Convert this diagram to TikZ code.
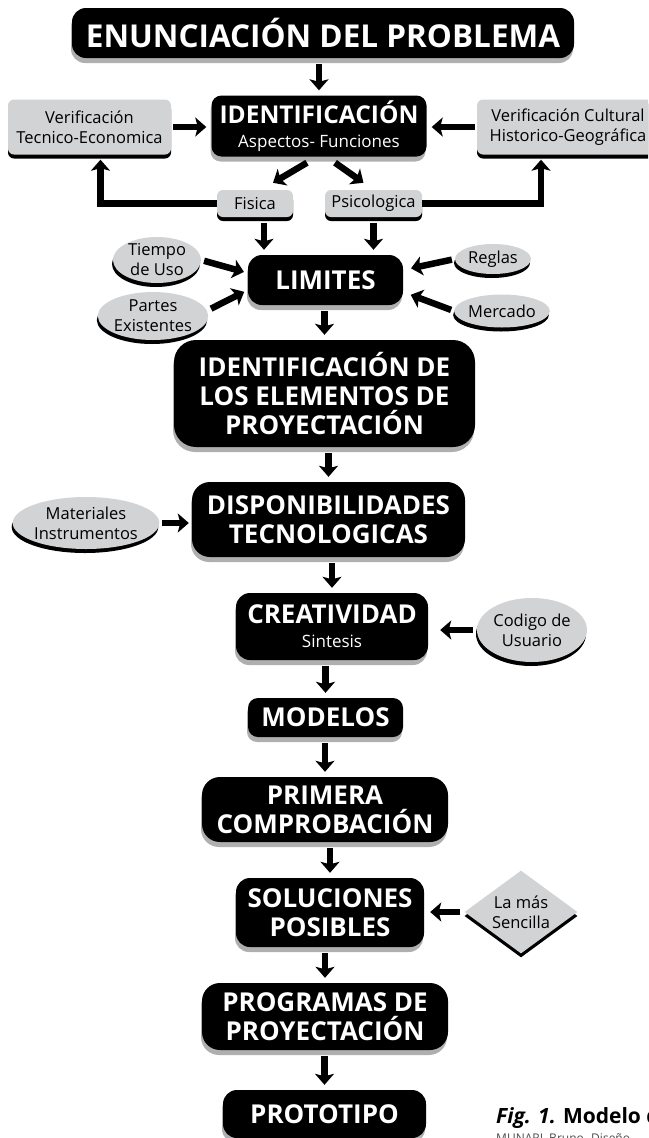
\documentclass[tikz,border=0pt]{standalone}
\usepackage{fontspec}
\setmainfont{Open Sans}
\usetikzlibrary{shapes.geometric,shadows,arrows.meta}

\definecolor{boxgray}{HTML}{D2D3D5}
\definecolor{shadegray}{HTML}{AEAFB1}
\newcommand{\subtxt}{\mdseries\fontsize{17}{20}\selectfont}

\tikzset{
    mainbox/.style={fill=black, text=white, rounded corners=14pt, align=center,
        inner sep=1pt, font=\bfseries\fontsize{26}{29}\selectfont,
        drop shadow={shadow xshift=-1pt, shadow yshift=-5pt, fill=shadegray, opacity=1}},
    sidebox/.style={fill=boxgray, rounded corners=6pt, align=center, inner sep=1pt,
        font=\fontsize{16.5}{20}\selectfont,
        drop shadow={shadow xshift=0pt, shadow yshift=-4pt, fill=black, opacity=1}},
    sideoval/.style={ellipse, fill=boxgray, align=center, inner sep=0pt,
        font=\fontsize{16.5}{20}\selectfont,
        drop shadow={shadow xshift=-1pt, shadow yshift=-4pt, fill=black, opacity=1}},
    flow/.style={line width=6.5pt, -{Stealth[length=11pt,width=19pt,inset=2.5pt]},
        shorten <=6pt, shorten >=5pt}
}

\begin{document}
\begin{tikzpicture}[x=1pt, y=-1pt]
    \useasboundingbox (0,0) rectangle (648,1138);
    \clip (0,0) rectangle (648,1138);

    \node (enun) at (323,33) [mainbox, minimum width=502pt, minimum height=50pt,
        font=\bfseries\fontsize{31.5}{36}\selectfont] {ENUNCIACIÓN DEL PROBLEMA};
    \node (ident) at (319,126) [mainbox, minimum width=215pt, minimum height=61pt,
        rounded corners=10pt, font=\bfseries\fontsize{24.5}{28}\selectfont]
        {IDENTIFICACIÓN\\[-4pt]{\subtxt Aspectos- Funciones}};
    \node (vtec) at (89.5,127) [sidebox, minimum width=163pt, minimum height=55pt]
        {Verificación\\Tecnico-Economica};
    \node (vcul) at (568,127) [sidebox, minimum width=182pt, minimum height=55pt]
        {Verificación Cultural\\Historico-Geográfica};
    \node (fisica) at (255,203.5) [sidebox, minimum width=76pt, minimum height=27pt] {Fisica};
    \node (psico) at (373.5,203.5) [sidebox, minimum width=97pt, minimum height=27pt] {Psicologica};

    \node (limites) at (325.5,280) [mainbox, minimum width=155pt, minimum height=50pt] {LIMITES};
    \node (tiempo) at (157,260) [sideoval, minimum width=88pt, minimum height=46pt] {Tiempo\\de Uso};
    \node (partes) at (153,316) [sideoval, minimum width=108pt, minimum height=48pt] {Partes\\Existentes};
    \node (reglas) at (493,259) [sideoval, minimum width=76pt, minimum height=30pt] {Reglas};
    \node (mercado) at (502,311) [sideoval, minimum width=95pt, minimum height=33pt] {Mercado};

    \node (elem) at (324.5,393.5) [mainbox, minimum width=301pt, minimum height=107pt,
        rounded corners=22pt] {IDENTIFICACIÓN DE\\LOS ELEMENTOS DE\\PROYECTACIÓN};
    \node (disp) at (328.5,519.5) [mainbox, minimum width=273pt, minimum height=75pt,
        rounded corners=18pt] {DISPONIBILIDADES\\TECNOLOGICAS};
    \node (mater) at (86,523) [sideoval, minimum width=138pt, minimum height=52pt] {Materiales\\Instrumentos};
    \node (creat) at (332,626.5) [mainbox, minimum width=192pt, minimum height=67pt]
        {CREATIVIDAD\\[-5pt]{\subtxt Sintesis}};
    \node (codigo) at (532,630) [sideoval, minimum width=110pt, minimum height=64pt] {Codigo de\\Usuario};
    \node (modelos) at (325.5,717.5) [mainbox, minimum width=155pt, minimum height=39pt,
        rounded corners=10pt] {MODELOS};
    \node (primera) at (325,809.5) [mainbox, minimum width=246pt, minimum height=65pt,
        rounded corners=18pt] {PRIMERA\\COMPROBACIÓN};
    \node (soluc) at (330,912.5) [mainbox, minimum width=188pt, minimum height=69pt]
        {SOLUCIONES\\POSIBLES};
    \node (sencilla) at (521,912) [diamond, fill=boxgray, aspect=1.16, minimum width=113pt,
        inner sep=0pt, align=center, font=\fontsize{16.5}{20}\selectfont,
        drop shadow={shadow xshift=0pt, shadow yshift=-4pt, fill=black, opacity=1}]
        {La más\\Sencilla};
    \node (program) at (325,1016.5) [mainbox, minimum width=246pt, minimum height=67pt,
        rounded corners=18pt] {PROGRAMAS DE\\PROYECTACIÓN};
    \node (proto) at (324.5,1114) [mainbox, minimum width=203pt, minimum height=48pt] {PROTOTIPO};

    \node (fig) at (496,1123) [anchor=base west, inner sep=0pt,
        font=\bfseries\fontsize{21}{24}\selectfont] {\textit{Fig. 1.} Modelo de};
    \node (autor) at (496,1142) [anchor=base west, inner sep=0pt, text=black!70,
        font=\fontsize{12}{14}\selectfont] {MUNARI, Bruno. Diseño};

    % flujo principal
    \draw[flow] (enun.south -| ident.north) -- (ident.north);
    \draw[flow] (limites.south -| elem.north) -- (elem.north);
    \draw[flow] (elem.south -| disp.north) -- (disp.north);
    \draw[flow] (disp.south -| creat.north) -- (creat.north);
    \draw[flow] (creat.south -| modelos.north) -- (modelos.north);
    \draw[flow] (modelos.south -| primera.north) -- (primera.north);
    \draw[flow] (primera.south -| soluc.north) -- (soluc.north);
    \draw[flow] (soluc.south -| program.north) -- (program.north);
    \draw[flow] (program.south -| proto.north) -- (proto.north);

    % identificacion
    \draw[flow, shorten <=2pt] (vtec.east) -- (vtec.east -| ident.west);
    \draw[flow, shorten <=2pt] (vcul.west) -- (vcul.west -| ident.east);
    \draw[flow, shorten <=0pt, shorten >=0pt] ([xshift=-12pt,yshift=-6pt]ident.south)
        -- ([xshift=18pt,yshift=7pt]fisica.north);
    \draw[flow, shorten <=0pt, shorten >=0pt] ([xshift=16pt,yshift=-6pt]ident.south)
        -- ([xshift=-10pt,yshift=7pt]psico.north);
    \draw[flow, shorten <=0pt] (fisica.west) -| ([xshift=11pt]vtec.south);
    \draw[flow, shorten <=0pt] (psico.east) -| ([xshift=-27pt]vcul.south);
    \draw[flow] ([xshift=9pt]fisica.south) -- ([xshift=9pt]fisica.south |- limites.north);
    \draw[flow] (psico.south) -- (psico.south |- limites.north);

    % limites
    \draw[flow, shorten <=3pt, shorten >=4pt] (tiempo.east) -- ([yshift=7pt]limites.west);
    \draw[flow, shorten <=3pt, shorten >=4pt] ([yshift=6pt]partes.east) -- ([yshift=-10pt]limites.west);
    \draw[flow, shorten <=3pt, shorten >=8pt] (reglas.west) -- ([yshift=10pt]limites.east);
    \draw[flow, shorten <=3pt, shorten >=8pt] (mercado.west) -- ([yshift=-12pt]limites.east);

    % entradas laterales
    \draw[flow, shorten <=2pt, shorten >=3pt] (mater.east) -- (mater.east -| disp.west);
    \draw[flow, shorten <=4pt, shorten >=12pt] (codigo.west) -- (codigo.west -| creat.east);
    \draw[flow, shorten <=4pt, shorten >=6pt] (sencilla.west) -- (sencilla.west -| soluc.east);
\end{tikzpicture}
\end{document}
